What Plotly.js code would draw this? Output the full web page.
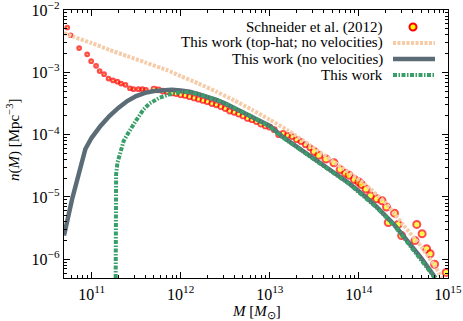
<!DOCTYPE html>
<html>
<head>
<meta charset="utf-8">
<script src="https://cdn.plot.ly/plotly-3.0.1.min.js"></script>
<style>
  html, body { margin: 0; padding: 0; background: #fff; }
  #myPlot { width: 463px; height: 321px; }
</style>
</head>
<body>
<div id="myPlot"></div>
<script>
/**
 * Values, stored as log10 (mass in Msun, n in Mpc^-3)
 */
const schneiderLogM = [
  10.727, 10.765, 10.86, 10.95, 10.995, 11.05, 11.09, 11.14, 11.19, 11.24,
  11.29, 11.33, 11.38, 11.43, 11.47, 11.525, 11.57, 11.61,
  11.70, 11.75, 11.80, 11.85, 11.90, 11.95, 12.00, 12.05, 12.10, 12.15,
  12.20, 12.25, 12.30, 12.35, 12.40, 12.45, 12.50, 12.55, 12.60, 12.65,
  12.70, 12.75, 12.80, 12.85, 12.90, 12.95, 13.00, 13.05, 13.10, 13.15,
  13.20, 13.25, 13.30, 13.35, 13.40, 13.45, 13.50,
  13.55, 13.63, 13.72, 13.79, 13.85, 13.89, 13.95, 14.00, 14.03, 14.08,
  14.13, 14.20, 14.26, 14.31, 14.33, 14.40, 14.44, 14.48, 14.63, 14.65,
  14.71, 14.76, 14.80, 14.85, 14.98
];
const schneiderLogN = [
  -2.28, -2.405, -2.61, -2.71, -2.82, -2.895, -2.98, -3.03, -3.10, -3.13,
  -3.15, -3.18, -3.20, -3.255, -3.27, -3.27, -3.27, -3.28,
  -3.27, -3.28, -3.30, -3.31, -3.33, -3.34, -3.36, -3.37, -3.39, -3.41,
  -3.43, -3.45, -3.47, -3.50, -3.52, -3.55, -3.58, -3.62, -3.64, -3.67,
  -3.70, -3.74, -3.76, -3.79, -3.83, -3.86, -3.88, -3.92, -4.00, -3.98,
  -4.01, -4.03, -4.08, -4.11, -4.16, -4.21, -4.27,
  -4.33, -4.39, -4.45, -4.56, -4.62, -4.65, -4.72, -4.76, -4.80, -4.87,
  -4.98, -5.03, -5.06, -5.16, -5.41, -5.26, -5.44, -5.62, -5.70, -5.44,
  -5.59, -5.83, -5.91, -6.08, -6.21
];

const topHatLogM = [10.69, 10.8, 11.0, 11.2, 11.4, 11.6, 11.84, 12.0, 12.2, 12.4,
  12.6, 12.8, 13.0, 13.2, 13.44, 13.7, 14.07, 14.3, 14.5, 14.7, 14.85, 14.93];
const topHatLogN = [-2.37, -2.43, -2.53, -2.64, -2.74, -2.84, -2.96, -3.06, -3.18, -3.31,
  -3.45, -3.60, -3.76, -3.93, -4.16, -4.42, -4.80, -5.10, -5.45, -5.80, -6.10, -6.30];

const noVelLogM = [10.69, 10.78, 10.93, 11.0, 11.1, 11.2, 11.3, 11.4, 11.5, 11.6,
  11.7, 11.8, 11.9, 12.0, 12.1, 12.2, 12.3, 12.4, 12.5, 12.6, 12.77, 13.0, 13.14,
  13.3, 13.51, 13.7, 13.89, 14.07, 14.2, 14.4, 14.5, 14.6, 14.7, 14.8, 14.86];
const noVelLogN = [-5.62, -5.04, -4.23, -4.05, -3.86, -3.70, -3.57, -3.46, -3.38, -3.33,
  -3.30, -3.285, -3.28, -3.29, -3.31, -3.35, -3.39, -3.44, -3.50, -3.57, -3.68, -3.86, -4.03,
  -4.19, -4.39, -4.59, -4.78, -4.99, -5.16, -5.45, -5.62, -5.80, -5.98, -6.18, -6.30];

const thisWorkLogM = [11.27, 11.27, 11.275, 11.29, 11.33, 11.36, 11.4, 11.45, 11.5, 11.58,
  11.65, 11.76, 11.9, 12.0, 12.1, 12.2, 12.3, 12.4, 12.5, 12.6, 12.77, 13.0, 13.14,
  13.3, 13.51, 13.7, 13.89, 14.07, 14.2, 14.4, 14.5, 14.6, 14.7, 14.8, 14.85];
const thisWorkLogN = [-6.30, -5.00, -4.64, -4.45, -4.24, -4.10, -4.00, -3.87, -3.77, -3.60,
  -3.50, -3.41, -3.34, -3.32, -3.32, -3.35, -3.39, -3.44, -3.50, -3.57, -3.69, -3.87, -4.04,
  -4.20, -4.40, -4.60, -4.79, -5.00, -5.17, -5.46, -5.64, -5.82, -6.00, -6.20, -6.30];

const xTickExp = [11, 12, 13, 14, 15];
const yTickExp = [-6, -5, -4, -3, -2];

const legendLabels = [
  "Schneider et al. (2012)",
  "This work (top-hat; no velocities)",
  "This work (no velocities)",
  "This work"
];

const colors = {
  ring: "#ff0000",
  fill: "#ffff00",
  peach: "#f5cba8",
  slate: "#5c6c77",
  green: "#3a9e69"
};

const pow10 = arr => arr.map(v => Math.pow(10, v));
const powLabel = e => "10<sup>" + (e < 0 ? "−" + (-e) : e) + "</sup>";

/**
 * Plot frame in pixels (used for the hand-made legend and titles)
 */
const W = 463, H = 321;
const margin = { l: 64, r: 15, t: 10, b: 43 };
const pw = W - margin.l - margin.r;
const ph = H - margin.t - margin.b;
const px = x => (x - margin.l) / pw;
const py = y => 1 - (y - margin.t) / ph;

const font = "Liberation Serif";

const data = [
  {
    type: "scatter",
    mode: "markers",
    x: pow10(schneiderLogM),
    y: pow10(schneiderLogN),
    marker: {
      color: colors.fill,
      size: schneiderLogM.map(m => (m < 11.65 ? 3.5 : m < 13.5 ? 5 : 7)),
      line: { color: colors.ring, width: schneiderLogM.map(m => (m < 11.65 ? 2.2 : m < 13.5 ? 1.8 : 2)) }
    },
    showlegend: false
  },
  {
    type: "scatter",
    mode: "lines",
    x: pow10(topHatLogM),
    y: pow10(topHatLogN),
    line: { color: colors.peach, width: 4, dash: "3px,1.5px", shape: "spline", smoothing: 0.6 },
    showlegend: false
  },
  {
    type: "scatter",
    mode: "lines",
    x: pow10(noVelLogM),
    y: pow10(noVelLogN),
    line: { color: colors.slate, width: 4.5 },
    showlegend: false
  },
  {
    type: "scatter",
    mode: "lines",
    x: pow10(thisWorkLogM),
    y: pow10(thisWorkLogN),
    line: { color: colors.green, width: 4, dash: "4px,1.5px,1.5px,1.5px" },
    showlegend: false
  }
];

/**
 * Legend: text right-aligned, key on the right
 */
const rowsY = [27, 43, 59, 75];
const annotations = legendLabels.map((t, i) => ({
  xref: "paper", yref: "paper",
  x: px(385), y: py(rowsY[i]),
  xanchor: "right", yanchor: "middle",
  text: t, showarrow: false,
  font: { family: font, size: 15, color: "#000" }
}));

// axis titles
annotations.push({
  xref: "paper", yref: "paper",
  x: 0.5, y: py(312), xanchor: "center", yanchor: "middle",
  text: "<i>M</i> [<i>M</i><sub>⊙</sub>]", showarrow: false,
  font: { family: font, size: 15, color: "#000" }
});
annotations.push({
  xref: "paper", yref: "paper",
  x: px(13), y: py(140), xanchor: "center", yanchor: "middle",
  textangle: -90,
  text: "<i>n</i>(<i>M</i>) [Mpc<sup>−3</sup>]", showarrow: false,
  font: { family: font, size: 15, color: "#000" }
});

const keyX0 = px(393), keyX1 = px(435);
const shapes = [
  {
    type: "circle", xref: "paper", yref: "paper",
    x0: px(409.5), x1: px(416.5), y0: py(rowsY[0] + 3.5), y1: py(rowsY[0] - 3.5),
    fillcolor: colors.fill, line: { color: colors.ring, width: 2 }
  },
  {
    type: "line", xref: "paper", yref: "paper",
    x0: keyX0, x1: keyX1, y0: py(rowsY[1]), y1: py(rowsY[1]),
    line: { color: colors.peach, width: 4, dash: "3px,1.5px" }
  },
  {
    type: "line", xref: "paper", yref: "paper",
    x0: keyX0, x1: keyX1, y0: py(rowsY[2]), y1: py(rowsY[2]),
    line: { color: colors.slate, width: 4.5 }
  },
  {
    type: "line", xref: "paper", yref: "paper",
    x0: keyX0, x1: keyX1, y0: py(rowsY[3]), y1: py(rowsY[3]),
    line: { color: colors.green, width: 4, dash: "4px,1.5px,1.5px,1.5px" }
  }
];

const axisCommon = {
  type: "log",
  tickmode: "array",
  showgrid: false,
  zeroline: false,
  showline: true,
  linecolor: "#000",
  linewidth: 1.3,
  mirror: "allticks",
  ticks: "inside",
  ticklen: 6,
  tickwidth: 1,
  tickcolor: "#000",
  ticklabeloverflow: "allow",
  tickfont: { family: font, size: 16, color: "#000" },
  minor: { ticks: "inside", ticklen: 3, tickcolor: "#000", dtick: "D1", showgrid: false }
};

const layout = {
  width: W,
  height: H,
  margin: margin,
  paper_bgcolor: "#fff",
  plot_bgcolor: "#fff",
  font: { family: font, size: 15, color: "#000" },
  showlegend: false,
  xaxis: Object.assign({}, axisCommon, {
    range: [10.69, 15.0005],
    tickvals: pow10(xTickExp),
    ticktext: xTickExp.map(powLabel),
    ticklabelstandoff: 1
  }),
  yaxis: Object.assign({}, axisCommon, {
    range: [-6.3, -1.9995],
    tickvals: pow10(yTickExp),
    ticktext: yTickExp.map(powLabel),
    ticklabelstandoff: 0
  }),
  annotations: annotations,
  shapes: shapes
};

Plotly.newPlot("myPlot", data, layout, { staticPlot: true });
</script>
</body>
</html>
